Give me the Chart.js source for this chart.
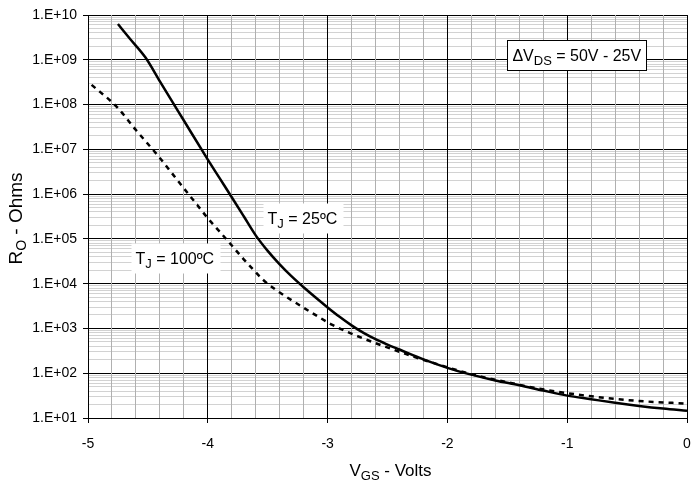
<!DOCTYPE html>
<html>
<head>
<meta charset="utf-8">
<script src="https://cdn.jsdelivr.net/npm/chart.js@4.4.1/dist/chart.umd.min.js"></script>
<style>
  html, body { margin: 0; padding: 0; background: #fff; }
  #wrap { width: 692px; height: 480px; }
</style>
</head>
<body>
<div id="wrap"><canvas id="roChart" width="692" height="480"></canvas></div>
<script>
// gate voltage (V) and output resistance (ohms)
const vgs25 = [-4.75, -4.65, -4.52, -4.4, -4.2, -4.0, -3.9, -3.8, -3.7, -3.6, -3.5, -3.4, -3.3, -3.2, -3.1, -3.0, -2.9, -2.8, -2.7, -2.6, -2.5, -2.4, -2.2, -2.0, -1.8, -1.6, -1.4, -1.2, -1.0, -0.8, -0.6, -0.4, -0.2, 0];
const ro25 = [6.3e9, 2.95e9, 1.12e9, 3.3e8, 4.4e7, 5.9e6, 2.24e6, 8.5e5, 3.2e5, 1.2e5, 5.4e4, 2.7e4, 1.45e4, 8.3e3, 4.9e3, 2.95e3, 1.82e3, 1.17e3, 795, 575, 437, 339, 204, 132, 93, 69, 54, 41, 31.6, 26.3, 21.9, 18.6, 16.2, 14.5];

const vgs100 = [-4.97, -4.76, -4.6, -4.41, -4.23, -4.09, -4.0, -3.84, -3.7, -3.62, -3.54, -3.45, -3.35, -3.29, -3.07, -2.96, -2.76, -2.54, -2.26, -2.13, -1.8, -1.5, -1.23, -0.82, -0.4, 0];
const ro100 = [2.75e8, 8.9e7, 2.7e7, 6.9e6, 1.7e6, 5.8e5, 2.9e5, 9.5e4, 3.5e4, 2.05e4, 1.23e4, 7.9e3, 5.2e3, 4.1e3, 1.78e3, 1.2e3, 690, 410, 224, 174, 95, 63, 45, 31, 24, 21];

const xTicks = [-5, -4, -3, -2, -1, 0];
const yDecades = [1, 2, 3, 4, 5, 6, 7, 8, 9, 10];

const FONT = "'Liberation Sans', Arial, sans-serif";

function pts(xs, ys) {
  return xs.map((x, i) => ({ x: x, y: ys[i] }));
}

function isWhole(v) {
  return Math.abs(v - Math.round(v)) < 1e-6;
}

function isDecade(v) {
  return isWhole(Math.log10(v));
}

// text with subscripts, parts = [[text, isSub], ...], centred on cx
function drawParts(ctx, parts, cx, y, size, subSize) {
  let w = 0;
  parts.forEach(p => {
    ctx.font = (p[1] ? subSize : size) + 'px ' + FONT;
    w += ctx.measureText(p[0]).width;
  });
  let x = cx - w / 2;
  ctx.textAlign = 'left';
  ctx.textBaseline = 'alphabetic';
  parts.forEach(p => {
    ctx.font = (p[1] ? subSize : size) + 'px ' + FONT;
    ctx.fillText(p[0], x, p[1] ? y + 4 : y);
    x += ctx.measureText(p[0]).width;
  });
  return w;
}

const labelPlugin = {
  id: 'labels',
  afterDraw(chart) {
    const ctx = chart.ctx;
    const xs = chart.scales.x, ys = chart.scales.y;
    const area = chart.chartArea;
    ctx.save();
    ctx.fillStyle = '#000';

    // axis titles
    drawParts(ctx, [['V', false], ['GS', true], [' - Volts', false]], (area.left + area.right) / 2 + 3, 476, 17, 13);
    ctx.save();
    ctx.translate(22, (area.top + area.bottom) / 2 + 2);
    ctx.rotate(-Math.PI / 2);
    drawParts(ctx, [['R', false], ['O', true], [' - Ohms', false]], 0, 0, 19, 14);
    ctx.restore();

    // boxed notes
    const notes = [
      { x: -0.92, y: 1.3e9, parts: [['\u0394V', false], ['DS', true], [' = 50V - 25V', false]], border: true },
      { x: -3.21, y: 3.0e5, parts: [['T', false], ['J', true], [' = 25\u00baC', false]], border: false },
      { x: -4.275, y: 3.8e4, parts: [['T', false], ['J', true], [' = 100\u00baC', false]], border: false }
    ];
    notes.forEach(n => {
      const cx = xs.getPixelForValue(n.x);
      const cy = ys.getPixelForValue(n.y);
      let w = 0;
      n.parts.forEach(p => {
        ctx.font = (p[1] ? 13 : 16) + 'px ' + FONT;
        w += ctx.measureText(p[0]).width;
      });
      const bx = Math.round(cx - w / 2 - 5) + 0.5;
      const by = Math.round(cy - 15) + 0.5;
      ctx.fillStyle = '#fff';
      ctx.fillRect(bx, by, Math.round(w + 10), 30);
      if (n.border) {
        ctx.strokeStyle = '#000';
        ctx.lineWidth = 1;
        ctx.strokeRect(bx, by, Math.round(w + 10), 30);
      }
      ctx.fillStyle = '#000';
      drawParts(ctx, n.parts, cx, cy + 6, 16, 13);
    });
    ctx.restore();
  }
};

new Chart(document.getElementById('roChart').getContext('2d'), {
  type: 'line',
  data: {
    datasets: [
      {
        label: 'TJ = 25C',
        data: pts(vgs25, ro25),
        borderColor: '#000',
        borderWidth: 2.5,
        pointRadius: 0,
        cubicInterpolationMode: 'monotone'
      },
      {
        label: 'TJ = 100C',
        data: pts(vgs100, ro100),
        borderColor: '#000',
        borderWidth: 2.5,
        borderDash: [5, 5],
        pointRadius: 0,
        cubicInterpolationMode: 'monotone'
      }
    ]
  },
  options: {
    responsive: false,
    animation: false,
    layout: { padding: { top: 15, right: 5, left: 0, bottom: 0 } },
    plugins: {
      legend: { display: false },
      tooltip: { enabled: false }
    },
    scales: {
      y: {
        type: 'logarithmic',
        z: -1,
        min: 10,
        max: 1e10,
        afterBuildTicks(scale) {
          const t = [];
          yDecades.forEach(e => {
            if (e === 10) { t.push({ value: 1e10 }); return; }
            for (let m = 1; m <= 9; m++) t.push({ value: m * Math.pow(10, e) });
          });
          scale.ticks = t;
        },
        afterFit(scale) { scale.width = 88; },
        ticks: {
          autoSkip: false,
          padding: 6,
          color: '#000',
          font: { family: FONT, size: 14 },
          callback: v => {
            if (!isDecade(v)) return '';
            const e = Math.round(Math.log10(v));
            return '1.E+' + (e < 10 ? '0' + e : e);
          }
        },
        grid: {
          color: c => (c.tick && isDecade(c.tick.value) ? '#000' : '#d2d2d2'),
          tickColor: c => (c.tick && isDecade(c.tick.value) ? '#000' : 'rgba(0,0,0,0)'),
          tickLength: 5,
          lineWidth: 1
        },
        border: { color: '#000', width: 1 }
      },
      x: {
        type: 'linear',
        min: xTicks[0],
        max: xTicks[xTicks.length - 1],
        afterBuildTicks(scale) {
          const t = [];
          for (let i = 0; i <= 25; i++) t.push({ value: Math.round((-5 + i * 0.2) * 10) / 10 });
          scale.ticks = t;
        },
        afterFit(scale) {
          scale.height = 62;
          scale.paddingLeft = 0;
          scale.paddingRight = 0;
        },
        ticks: {
          autoSkip: false,
          maxRotation: 0,
          padding: 13,
          color: '#000',
          font: { family: FONT, size: 14 },
          callback: v => (xTicks.some(t => Math.abs(t - v) < 1e-6) ? String(Math.round(v)) : '')
        },
        grid: {
          color: c => (c.tick && isWhole(c.tick.value) ? '#000' : '#b0b0b0'),
          tickColor: c => (c.tick && isWhole(c.tick.value) ? '#000' : 'rgba(0,0,0,0)'),
          tickLength: 5,
          lineWidth: 1
        },
        border: { color: '#000', width: 1 }
      }
    }
  },
  plugins: [labelPlugin]
});
</script>
</body>
</html>
